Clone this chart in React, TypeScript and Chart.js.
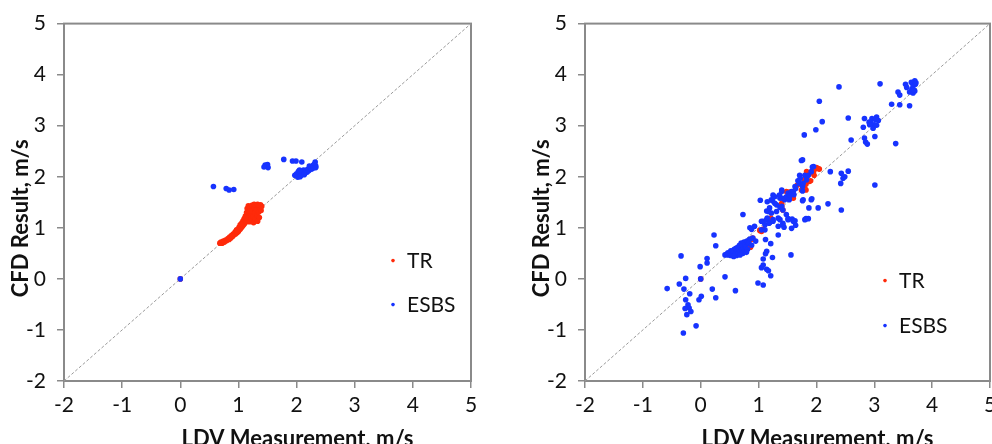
import { useEffect, useRef } from "react";
import { Chart, registerables } from "chart.js";

Chart.register(...registerables);

type Pt = [number, number];

// Axis range and labels shared by both panels
const axisMin = -2;
const axisMax = 5;
const tickValues = [-2, -1, 0, 1, 2, 3, 4, 5];
const xTitle = "LDV Measurement, m/s";
const yTitle = "CFD Result, m/s";
const seriesNames = ["TR", "ESBS"];
const seriesColors = ["#ff2a0a", "#1733ff"];
const identityLine: Pt[] = [
  [-2, -2],
  [5, 5],
];

// Left panel
const leftTR: Pt[] = [
  [0, 0], [0.68, 0.7], [0.7, 0.72], [0.72, 0.7], [0.74, 0.74], [0.76, 0.72], [0.78, 0.76],
  [0.8, 0.75], [0.82, 0.79], [0.84, 0.77], [0.85, 0.82], [0.87, 0.8], [0.88, 0.85],
  [0.9, 0.83], [0.91, 0.88], [0.92, 0.86], [0.94, 0.91], [0.95, 0.88], [0.96, 0.94],
  [0.98, 0.91], [0.99, 0.97], [1.0, 0.93], [1.01, 1.01], [1.03, 0.97], [1.03, 1.06],
  [1.05, 1.0], [1.06, 1.1], [1.07, 1.03], [1.08, 1.14], [1.09, 1.06], [1.1, 1.18],
  [1.11, 1.09], [1.12, 1.23], [1.13, 1.12], [1.14, 1.3], [1.15, 1.16], [1.15, 1.38],
  [1.17, 1.43], [1.17, 1.22], [1.18, 1.32], [1.19, 1.12], [1.2, 1.4], [1.21, 1.27],
  [1.22, 1.18], [1.23, 1.44], [1.24, 1.35], [1.25, 1.22], [1.26, 1.1], [1.27, 1.4],
  [1.28, 1.3], [1.29, 1.17], [1.3, 1.45], [1.31, 1.36], [1.32, 1.24], [1.33, 1.13],
  [1.34, 1.43], [1.35, 1.31], [1.36, 1.2], [1.37, 1.4], [1.38, 1.45], [1.39, 1.34],
  [1.4, 1.42], [1.27, 1.46], [1.33, 1.46], [1.2, 1.33], [1.13, 1.2], [1.05, 1.07],
  [0.97, 0.96], [0.89, 0.84],
];

const leftESBS: Pt[] = [
  [0, 0], [0.57, 1.81], [0.79, 1.77], [0.84, 1.74], [0.92, 1.75], [1.46, 2.23], [1.5, 2.24],
  [1.51, 2.18], [1.44, 2.19], [1.78, 2.34], [1.93, 2.31], [1.99, 2.31], [2.09, 2.29],
  [1.97, 2.03], [2.0, 2.06], [2.03, 2.1], [2.06, 2.0], [2.08, 2.05], [2.09, 2.1],
  [2.11, 2.08], [2.12, 2.13], [2.14, 2.06], [2.15, 2.11], [2.17, 2.13], [2.18, 2.09],
  [2.2, 2.15], [2.21, 2.12], [2.23, 2.16], [2.24, 2.19], [2.26, 2.15], [2.27, 2.2],
  [2.29, 2.23], [2.3, 2.18], [2.32, 2.29], [2.33, 2.21], [2.31, 2.25], [2.05, 2.13],
  [2.02, 1.99], [2.07, 2.02], [2.13, 2.04], [2.22, 2.21], [2.28, 2.17], [2.33, 2.18],
];

// Right panel
const rightTR: Pt[] = [
  [0, 0], [0.65, 0.61], [0.72, 0.66], [0.79, 0.66], [0.81, 0.64], [0.84, 0.75], [0.86, 0.62],
  [0.87, 0.77], [0.9, 0.8], [1.02, 0.95], [1.05, 0.93], [1.07, 0.97], [1.21, 1.19],
  [1.4, 1.42], [1.4, 1.48], [1.42, 1.35], [1.48, 1.71], [1.53, 1.7], [1.6, 1.58],
  [1.67, 1.84], [1.74, 1.74], [1.79, 1.78], [1.8, 1.77], [1.82, 1.74], [1.79, 1.94],
  [1.82, 1.86], [1.83, 2.0], [1.85, 2.07], [1.88, 2.07], [1.88, 1.91], [1.9, 1.92],
  [1.95, 2.1], [1.96, 2.03], [2.0, 2.16], [2.0, 2.18], [2.05, 2.15], [2.03, 2.16],
  [1.83, 2.1],
];

const rightESBSLow: Pt[] = [
  [-0.58, -0.19], [-0.37, -0.1], [-0.34, 0.45], [-0.26, 0.01], [-0.29, -0.2], [-0.19, -0.29],
  [-0.26, -0.41], [-0.22, -0.51], [-0.2, -0.57], [-0.27, -0.58], [-0.17, -0.64],
  [-0.24, -0.7], [-0.08, -0.92], [-0.3, -1.06], [-0.03, -0.41], [0.01, -0.34], [0.2, -0.2],
  [0.26, -0.37], [0.42, 0.04], [0.6, -0.23], [-0.01, 0.24], [0.11, 0.4], [0.11, 0.31],
  [0.23, 0.86], [0.26, 0.65], [0.73, 1.26], [0, 0],
];

const rightESBSCluster: Pt[] = [
  [0.42, 0.47], [0.45, 0.48], [0.48, 0.47], [0.5, 0.5], [0.52, 0.46], [0.53, 0.52],
  [0.55, 0.49], [0.56, 0.55], [0.58, 0.47], [0.58, 0.58], [0.6, 0.52], [0.61, 0.6],
  [0.62, 0.46], [0.63, 0.55], [0.64, 0.62], [0.65, 0.5], [0.66, 0.58], [0.67, 0.66],
  [0.68, 0.53], [0.69, 0.62], [0.7, 0.7], [0.71, 0.57], [0.72, 0.65], [0.73, 0.5],
  [0.74, 0.6], [0.75, 0.72], [0.76, 0.56], [0.77, 0.67], [0.78, 0.62], [0.8, 0.74],
  [0.81, 0.58], [0.83, 0.7], [0.85, 0.78], [0.88, 0.66], [0.9, 0.8], [0.52, 0.55],
  [0.47, 0.51], [0.57, 0.44], [0.68, 0.47], [0.79, 0.52],
];

const rightESBSMid: Pt[] = [
  [1.56, 0.47], [1.14, 0.54], [1.12, 0.49], [1.08, 0.39], [1.24, 0.42], [1.05, 0.22],
  [1.08, 0.27], [1.14, 0.19], [1.17, 0.16], [1.21, 0.06], [0.99, -0.08], [1.08, -0.12],
  [1.21, 0.69], [1.12, 0.77], [1.34, 0.86], [0.95, 0.74], [0.88, 0.97], [0.93, 1.03],
  [0.85, 1.0], [1.57, 0.99], [1.63, 1.14], [1.64, 1.05],
  [1.03, 1.54], [1.05, 1.13], [1.05, 0.96], [1.08, 1.13], [1.11, 1.06], [1.11, 0.96],
  [1.14, 1.16], [1.14, 1.33], [1.15, 1.19], [1.15, 1.51], [1.17, 1.32], [1.18, 1.09],
  [1.19, 1.39], [1.19, 1.1], [1.22, 1.29], [1.22, 1.55], [1.24, 1.53], [1.25, 1.13],
  [1.25, 1.16], [1.25, 1.64], [1.28, 1.48], [1.28, 1.61], [1.31, 1.32], [1.31, 1.45],
  [1.34, 1.03], [1.34, 1.19], [1.36, 1.64], [1.37, 1.16], [1.37, 1.4], [1.37, 1.58],
  [1.4, 1.42], [1.4, 1.71], [1.4, 1.74], [1.41, 1.58], [1.42, 1.09], [1.42, 1.35],
  [1.42, 1.06], [1.44, 1.01], [1.45, 1.55], [1.48, 1.61], [1.48, 1.26], [1.51, 1.18],
  [1.51, 1.16], [1.51, 1.68], [1.53, 1.55], [1.53, 1.58], [1.54, 1.64], [1.57, 1.71],
  [1.58, 1.17], [1.6, 1.71], [1.6, 1.13], [1.61, 1.65], [1.63, 1.81], [1.64, 1.77],
  [1.68, 1.92], [1.7, 1.87], [1.71, 2.03], [1.72, 1.97], [1.74, 2.32], [1.76, 1.81],
  [1.76, 1.72], [1.77, 1.87], [1.77, 1.55], [1.8, 2.03], [1.8, 1.16], [1.82, 1.18],
  [1.83, 1.94], [1.86, 2.03], [1.86, 1.18], [1.87, 1.39], [1.91, 1.55], [1.91, 2.1],
  [1.93, 2.19], [1.95, 2.2], [1.76, 1.53], [1.92, 1.57], [2.03, 1.39], [2.2, 1.47],
  [2.43, 1.35], [2.42, 1.87], [2.43, 2.07], [2.46, 1.97], [2.49, 2.0], [2.55, 2.11],
  [2.24, 2.1], [3.01, 1.84],
];

const rightESBSHigh: Pt[] = [
  [2.39, 3.76], [3.1, 3.82], [2.05, 3.48], [2.1, 3.08], [1.99, 2.92], [1.79, 2.82],
  [1.76, 2.33], [2.55, 3.15], [2.6, 2.72],
  [2.83, 3.14], [2.96, 3.14], [3.04, 3.17], [3.07, 3.1], [2.94, 3.07], [3.0, 3.02],
  [2.98, 2.95], [3.04, 3.01], [2.91, 3.07], [2.81, 2.97], [3.01, 2.79], [2.83, 2.76],
  [2.85, 2.68], [2.88, 2.64], [3.02, 3.12], [2.92, 3.02],
  [3.37, 2.65], [3.3, 3.42], [3.44, 3.41], [3.61, 3.39], [3.41, 3.66], [3.44, 3.6],
  [3.54, 3.81], [3.56, 3.75], [3.64, 3.85], [3.7, 3.88], [3.67, 3.78], [3.71, 3.81],
  [3.61, 3.66], [3.67, 3.64], [3.7, 3.68], [3.65, 3.72], [3.68, 3.7], [3.72, 3.84],
];

const rightESBS: Pt[] = [
  ...rightESBSLow,
  ...rightESBSCluster,
  ...rightESBSMid,
  ...rightESBSHigh,
];

const FONT = "Lato, 'Open Sans', 'Liberation Sans', sans-serif";
const FRAME = "#8a8a8a";

// Draws the plot frame, the rotated/offset axis titles and the in-plot legend
const panelDecor = {
  id: "panelDecor",
  beforeDatasetsDraw(chart: any) {
    const { ctx, chartArea: a } = chart;
    ctx.save();
    ctx.strokeStyle = FRAME;
    ctx.lineWidth = 2;
    ctx.strokeRect(a.left, a.top, a.right - a.left, a.bottom - a.top);
    ctx.restore();
  },
  afterDraw(chart: any, _args: any, opts: any) {
    const { ctx, chartArea: a } = chart;
    ctx.save();
    ctx.fillStyle = "#111";
    ctx.font = `bold 22px ${FONT}`;
    ctx.textAlign = "center";
    ctx.textBaseline = "alphabetic";
    ctx.fillText(xTitle, (a.left + a.right) / 2 + 30, 446);

    ctx.save();
    ctx.translate(a.left - 36, (a.top + a.bottom) / 2 + 16);
    ctx.rotate(-Math.PI / 2);
    ctx.fillText(yTitle, 0, 0);
    ctx.restore();

    ctx.font = `21px ${FONT}`;
    ctx.textAlign = "left";
    ctx.textBaseline = "middle";
    seriesNames.forEach((name, i) => {
      const cx = a.right + opts.legendDx;
      const cy = a.top + opts.legendDy + i * opts.legendGap;
      ctx.fillStyle = seriesColors[i];
      ctx.beginPath();
      ctx.arc(cx, cy, 1.8, 0, Math.PI * 2);
      ctx.fill();
      ctx.fillStyle = "#111";
      ctx.fillText(name, cx + 14, cy + 1);
    });
    ctx.restore();
  },
};

type PanelProps = {
  tr: Pt[];
  esbs: Pt[];
  left: number;
  width: number;
  yAxisWidth: number;
  rightPad: number;
  legendDx: number;
  legendDy: number;
  legendGap: number;
};

function ScatterPanel(p: PanelProps) {
  const ref = useRef<HTMLCanvasElement | null>(null);

  useEffect(() => {
    if (!ref.current) return;
    const toXY = (arr: Pt[]) => arr.map(([x, y]) => ({ x, y }));
    const tickFont = { family: FONT, size: 21 };
    const grid = {
      drawOnChartArea: false,
      drawTicks: true,
      tickLength: 7,
      color: FRAME,
      lineWidth: 1.5,
    };
    const chart = new Chart(ref.current, {
      type: "scatter",
      data: {
        datasets: [
          {
            label: "identity",
            data: toXY(identityLine),
            showLine: true,
            borderColor: "#9a9a9a",
            borderWidth: 1,
            borderDash: [3, 2],
            pointRadius: 0,
            order: 3,
          },
          {
            label: seriesNames[0],
            data: toXY(p.tr),
            backgroundColor: seriesColors[0],
            borderWidth: 0,
            pointRadius: 2.8,
            order: 2,
          },
          {
            label: seriesNames[1],
            data: toXY(p.esbs),
            backgroundColor: seriesColors[1],
            borderWidth: 0,
            pointRadius: 2.8,
            order: 1,
          },
        ],
      } as any,
      options: {
        animation: false,
        responsive: false,
        devicePixelRatio: 1,
        layout: { padding: { left: 0, top: 21, right: p.rightPad, bottom: 0 } },
        plugins: {
          legend: { display: false },
          tooltip: { enabled: false },
          panelDecor: {
            legendDx: p.legendDx,
            legendDy: p.legendDy,
            legendGap: p.legendGap,
          },
        } as any,
        scales: {
          x: {
            type: "linear",
            min: axisMin,
            max: axisMax,
            afterBuildTicks: (s: any) => {
              s.ticks = tickValues.map((v) => ({ value: v }));
            },
            afterFit: (s: any) => {
              s.height = 63;
            },
            ticks: {
              font: tickFont,
              color: "#111",
              padding: 5,
              maxRotation: 0,
              callback: (v: any) => String(v),
            },
            grid,
            border: { display: false },
          },
          y: {
            type: "linear",
            min: axisMin,
            max: axisMax,
            afterBuildTicks: (s: any) => {
              s.ticks = tickValues.map((v) => ({ value: v }));
            },
            afterFit: (s: any) => {
              s.width = p.yAxisWidth;
            },
            ticks: {
              font: tickFont,
              color: "#111",
              padding: 11,
              callback: (v: any) => String(v),
            },
            grid,
            border: { display: false },
          },
        },
      },
      plugins: [panelDecor],
    });
    return () => chart.destroy();
  }, []);

  return (
    <canvas
      ref={ref}
      width={p.width}
      height={444}
      style={{
        position: "absolute",
        left: p.left,
        top: 0,
        width: p.width,
        height: 444,
      }}
    />
  );
}

export default function App() {
  return (
    <div
      style={{
        position: "fixed",
        left: 0,
        top: 0,
        width: 992,
        height: 444,
        overflow: "hidden",
        background: "#fff",
      }}
    >
      <ScatterPanel
        tr={leftTR}
        esbs={leftESBS}
        left={0}
        width={496}
        yAxisWidth={64}
        rightPad={25}
        legendDx={-78}
        legendDy={237}
        legendGap={44}
      />
      <ScatterPanel
        tr={rightTR}
        esbs={rightESBS}
        left={496}
        width={520}
        yAxisWidth={89}
        rightPad={26}
        legendDx={-105}
        legendDy={257}
        legendGap={45}
      />
    </div>
  );
}
